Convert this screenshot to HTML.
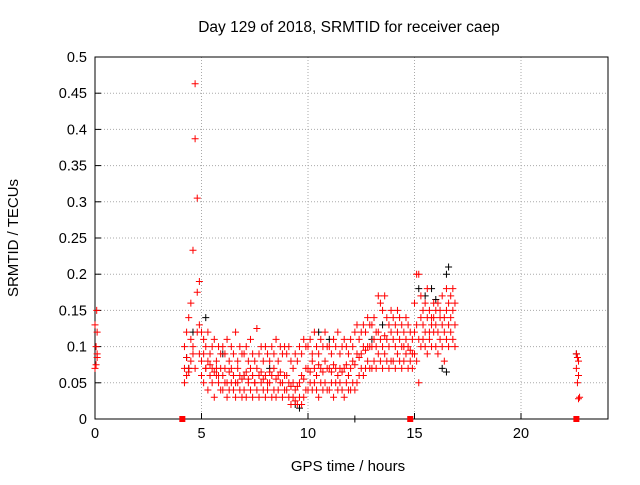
<!DOCTYPE html>
<html><head><meta charset="utf-8"><style>
body{margin:0;background:#fff}
svg text{font-family:"Liberation Sans",sans-serif;fill:#000}
</style></head><body>
<svg id="c" width="640" height="480">
<rect width="640" height="480" fill="#fff"/>
<text x="349" y="32" text-anchor="middle" font-size="15.5">Day 129 of 2018, SRMTID for receiver caep</text>
<text x="348" y="471" text-anchor="middle" font-size="15">GPS time / hours</text>
<text transform="translate(18,238) rotate(-90)" text-anchor="middle" font-size="15">SRMTID / TECUs</text>
<g id="grid"></g><g id="axes"></g><g id="black"></g><g id="red"></g>
</svg>
<script>
const xTicks=[0,5,10,15,20];
const yTicks=[0,0.05,0.1,0.15,0.2,0.25,0.3,0.35,0.4,0.45,0.5];
const yTickLabels=["0","0.05","0.1","0.15","0.2","0.25","0.3","0.35","0.4","0.45","0.5"];
const startHour=4.2, stepHour=0.1;
const redA=[.05,.06,.07,.08,.1,.07,.12,.09,
.06,.05,.07,.04,.06,.05,.03,.06,.05,.04,
.04,.05,.03,.04,.05,.04,.03,.05,.04,.03,
.04,.03,.05,.04,.03,.05,.04,.03,.05,.04,
.03,.04,.05,.03,.04,.03,.04,.05,.03,.04,
.04,.03,.02,.03,.025,.02,.03,.02,.03,.04,
.04,.05,.04,.05,.04,.03,.05,.04,.05,.04,
.04,.05,.03,.05,.04,.05,.04,.03,.05,.04,
.04,.05,.04,.05,.06,.07,.06,.07,.08,.07,
.07,.08,.07,.09,.08,.07,.09,.08,.07,.08,
.08,.07,.09,.08,.07,.08,.09,.07,.08,.07,
.09,.08,.05,.1,.11,.1,.09,.11,.1,.12,
.1,.09,.11,.1,.08,.11,.1,.12,.11,.1];
const redB=[.1,.12,.14,.16,.233,.463,.305,.19,
.12,.11,.1,.12,.09,.1,.11,.08,.1,.09,
.1,.09,.11,.08,.1,.09,.12,.08,.1,.09,
.09,.1,.08,.11,.09,.08,.125,.09,.1,.08,
.1,.09,.08,.1,.09,.11,.08,.1,.09,.1,
.09,.1,.08,.07,.09,.08,.1,.09,.11,.1,
.1,.11,.09,.12,.1,.09,.11,.1,.12,.1,
.1,.09,.11,.1,.12,.09,.1,.11,.1,.09,
.11,.1,.12,.13,.11,.12,.13,.12,.14,.13,
.13,.14,.12,.17,.16,.15,.17,.14,.13,.15,
.14,.13,.15,.14,.13,.12,.14,.13,.12,.11,
.16,.2,.2,.17,.15,.16,.18,.15,.14,.16,
.15,.16,.15,.17,.14,.18,.16,.17,.18,.16];
const redC=[.07,.085,.065,.11,.09,.387,.175,.13,
.08,.09,.07,.08,.075,.07,.065,.07,.06,.07,
.06,.07,.05,.065,.07,.06,.05,.07,.06,.055,
.06,.065,.055,.07,.06,.05,.07,.06,.065,.055,
.06,.05,.065,.06,.07,.055,.06,.065,.05,.06,
.06,.05,.045,.05,.04,.045,.05,.06,.055,.07,
.07,.065,.08,.07,.06,.075,.07,.065,.08,.07,
.07,.065,.075,.07,.06,.07,.065,.07,.075,.06,
.07,.08,.075,.09,.085,.09,.1,.095,.1,.1,
.1,.11,.1,.12,.11,.1,.115,.11,.1,.12,
.11,.1,.12,.11,.1,.1,.11,.1,.095,.09,
.12,.13,.11,.14,.13,.12,.14,.12,.13,.14,
.13,.12,.14,.13,.12,.15,.13,.14,.15,.13];
const extraX=[0,0.05,0.1,0.05,0.1,0,0.08,0.1,22.6,22.65,22.7,22.6,22.7,22.65,22.75,22.7];
const extraY=[.07,.075,.09,.1,.12,.13,.15,.085,.09,.085,.08,.07,.06,.05,.03,.028];
const squareX=[4.1,14.8,22.6];
const blackX=[4.3,4.4,4.6,5.2,6,7,8.2,9.4,9.6,10.5,11,12.2,13,13.5,15.2,15.5,16,16.5,16.6,16.3,16.5,22.6,15.8];
const blackY=[.085,.07,.12,.14,.09,.06,.07,.02,.015,.12,.11,0,.11,.13,.18,.17,.165,.2,.21,.07,.065,.09,.18];
const L=95,R=608,T=57,B=419;
const xs=h=>L+h*(521-95)/20;
const ys=v=>B-v*(B-T)/0.5;
const NS="http://www.w3.org/2000/svg";
function mk(tag,attrs,parent){const e=document.createElementNS(NS,tag);for(const k in attrs)e.setAttribute(k,attrs[k]);parent.appendChild(e);return e;}
const grid=document.getElementById('grid'),axes=document.getElementById('axes');
xTicks.forEach((t,i)=>{const x=xs(t);
 if(t>0){const g=mk('line',{x1:x,x2:x,y1:T,y2:B,stroke:'#aaa','stroke-dasharray':'1,2'},grid);
 
 }
 const tk=mk('line',{x1:x,x2:x,y1:B,y2:B-6,stroke:'#000'},axes);
 
 
 const tx=mk('text',{x:x,y:B+19,'text-anchor':'middle','font-size':14.5},axes);tx.textContent=String(t);
 
 });
yTicks.forEach((t,i)=>{const y=ys(t);
 if(t>0&&t<0.5){const g=mk('line',{x1:L,x2:R,y1:y,y2:y,stroke:'#aaa','stroke-dasharray':'1,2'},grid);
 
 }
 const tk=mk('line',{x1:L,x2:L+6,y1:y,y2:y,stroke:'#000'},axes);
 
 
 const tx=mk('text',{x:L-8,y:y+5,'text-anchor':'end','font-size':14.5},axes);tx.textContent=yTickLabels[i];
 
 });
const fr=mk('rect',{x:L,y:T,width:R-L,height:B-T,fill:'none',stroke:'#000'},axes);


function plus(g,h,v,col,name){const x=xs(h),y=ys(v);
 const p=mk('path',{d:`M${x-3.5},${y}h7M${x},${y-3.5}v7`,stroke:col,'stroke-width':1,fill:'none'},g);
 
 }
const bg=document.getElementById('black'),rg=document.getElementById('red');
blackX.forEach((h,i)=>plus(bg,h,blackY[i],'#000','black-point'));
[redA,redB,redC].forEach(arr=>arr.forEach((v,i)=>plus(rg,startHour+i*stepHour,v,'#f00','red-point')));
extraX.forEach((h,i)=>plus(rg,h,extraY[i],'#f00','red-point'));
squareX.forEach(h=>{const s=mk('rect',{x:xs(h)-3,y:ys(0)-3,width:6,height:6,fill:'#f00'},rg);
 
 });
</script>
</body></html>
